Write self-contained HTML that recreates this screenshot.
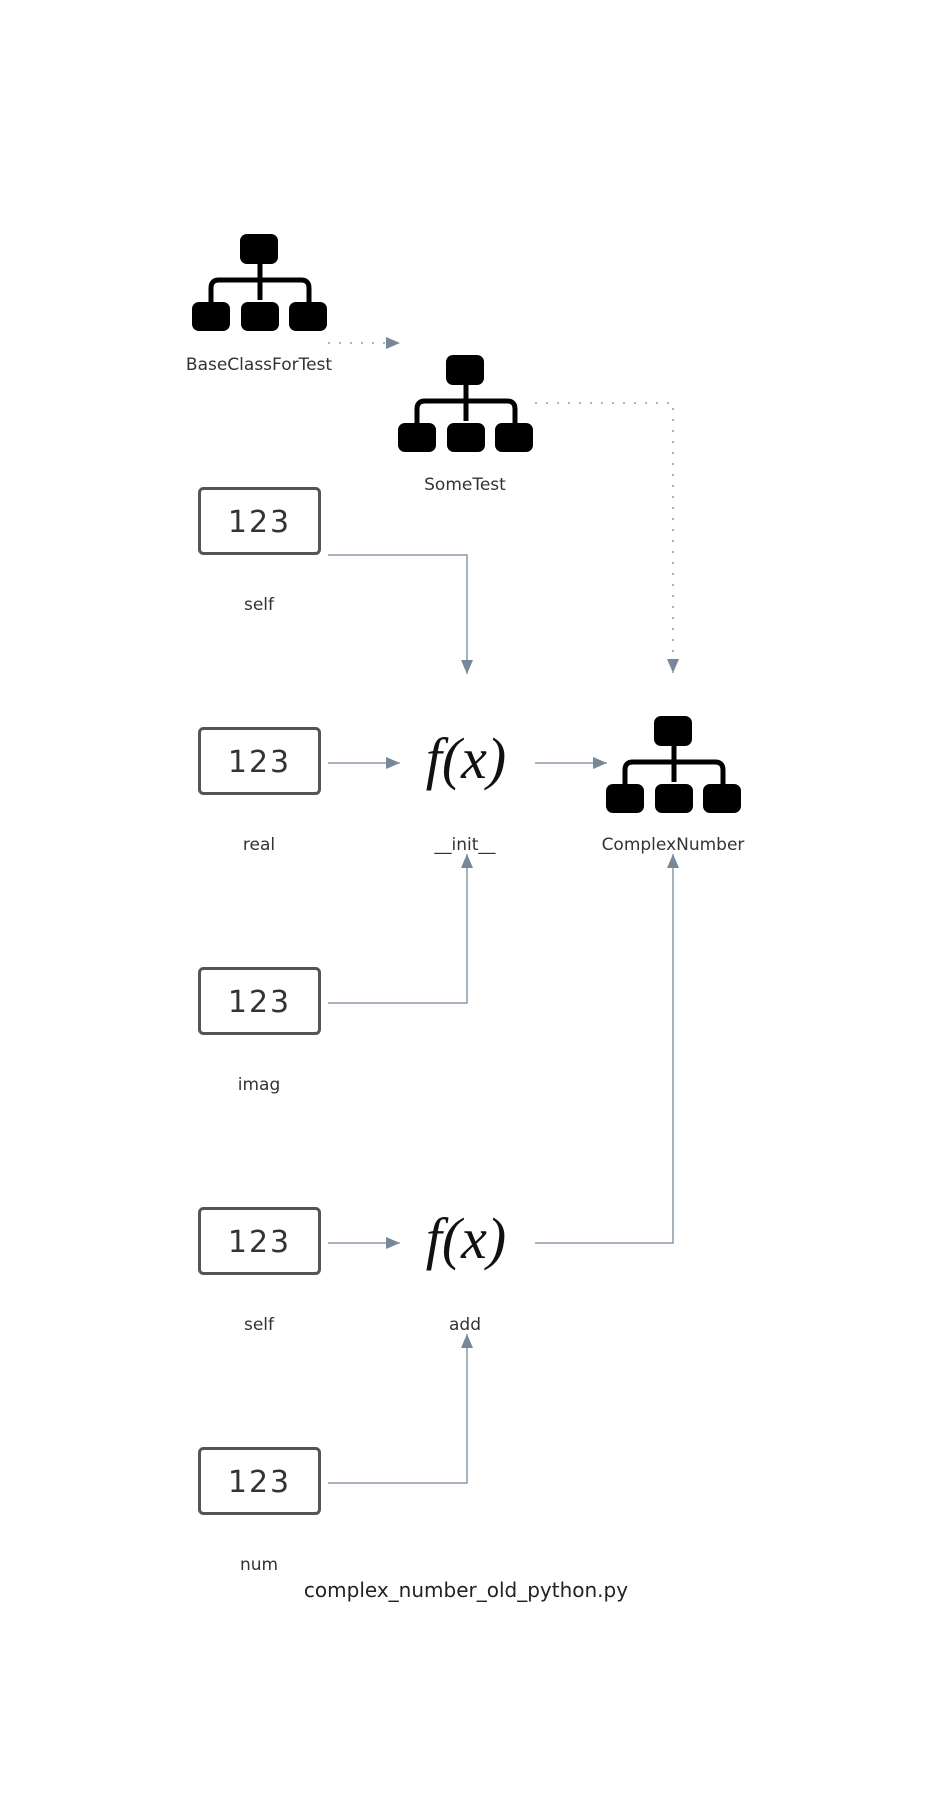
<!DOCTYPE html>
<html><head><meta charset="utf-8"><style>
html,body{margin:0;padding:0;background:#fff;}
svg{display:block;}
text{font-family:"DejaVu Sans","Liberation Sans",sans-serif;fill:#333;}
.fx{font-family:"Liberation Serif",serif;font-style:italic;fill:#111;}
</style></head><body>
<svg width="932" height="1800" viewBox="0 0 932 1800" xmlns="http://www.w3.org/2000/svg">
<defs>
<marker id="ah" markerWidth="14" markerHeight="12" refX="14" refY="6" orient="auto" markerUnits="userSpaceOnUse">
<path d="M0,0 L14,6 L0,12 Z" fill="#778899"/></marker>
<g id="cls">
<rect x="48" y="0" width="38" height="30" rx="7" fill="#000"/>
<rect x="0" y="68" width="38" height="29" rx="7" fill="#000"/>
<rect x="49" y="68" width="38" height="29" rx="7" fill="#000"/>
<rect x="97" y="68" width="38" height="29" rx="7" fill="#000"/>
<path d="M19,70 V54 Q19,46 27,46 H109 Q117,46 117,54 V70" fill="none" stroke="#000" stroke-width="5"/>
<line x1="68" y1="30" x2="68" y2="66" stroke="#000" stroke-width="5"/>
</g>
<g id="num">
<rect x="1.5" y="1.5" width="120" height="65" rx="4" fill="#fff" stroke="#555" stroke-width="3"/>
<text x="61.5" y="45" text-anchor="middle" style="font-size:30px;fill:#333;letter-spacing:2px">123</text>
</g>
</defs>

<g fill="none" stroke="#778899" stroke-width="1.3">
<line x1="328" y1="343" x2="400" y2="343" stroke-dasharray="2,9" marker-end="url(#ah)"/>
<polyline points="535,403 673,403 673,673" stroke-dasharray="2,9" marker-end="url(#ah)"/>
<polyline points="328,555 467,555 467,674" marker-end="url(#ah)"/>
<line x1="328" y1="763" x2="400" y2="763" marker-end="url(#ah)"/>
<line x1="535" y1="763" x2="607" y2="763" marker-end="url(#ah)"/>
<polyline points="328,1003 467,1003 467,854" marker-end="url(#ah)"/>
<line x1="328" y1="1243" x2="400" y2="1243" marker-end="url(#ah)"/>
<polyline points="535,1243 673,1243 673,854" marker-end="url(#ah)"/>
<polyline points="328,1483 467,1483 467,1334" marker-end="url(#ah)"/>
</g>

<use href="#cls" x="192" y="234"/>
<use href="#cls" x="398" y="355"/>
<use href="#cls" x="606" y="716"/>

<use href="#num" x="198" y="487"/>
<use href="#num" x="198" y="727"/>
<use href="#num" x="198" y="967"/>
<use href="#num" x="198" y="1207"/>
<use href="#num" x="198" y="1447"/>

<text class="fx" x="466" y="778" text-anchor="middle" style="font-size:58px">f(x)</text>
<text class="fx" x="466" y="1258" text-anchor="middle" style="font-size:58px">f(x)</text>

<g style="font-size:17px" text-anchor="middle">
<text x="259" y="370">BaseClassForTest</text>
<text x="465" y="490">SomeTest</text>
<text x="259" y="610">self</text>
<text x="259" y="850">real</text>
<text x="465" y="850">__init__</text>
<text x="673" y="850">ComplexNumber</text>
<text x="259" y="1090">imag</text>
<text x="259" y="1330">self</text>
<text x="465" y="1330">add</text>
<text x="259" y="1570">num</text>
</g>
<text x="466" y="1597" text-anchor="middle" style="font-size:20px;fill:#222">complex_number_old_python.py</text>
</svg>
</body></html>
